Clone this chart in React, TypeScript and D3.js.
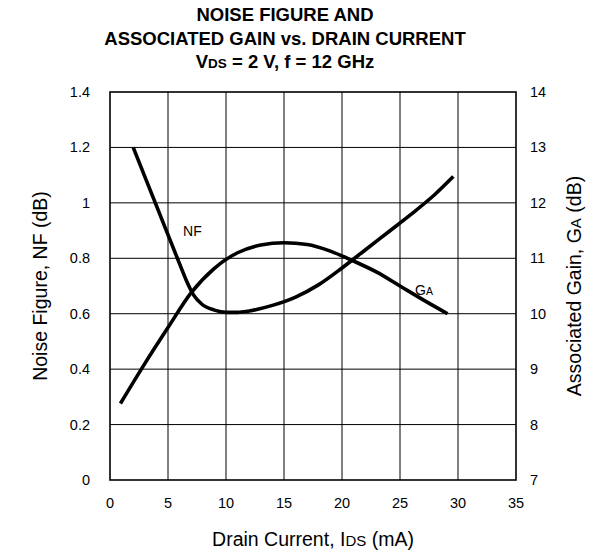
import * as d3 from 'd3';

type Pt = { x: number; y: number };

// Drain current axis ticks (mA)
const X_TICKS = [0, 5, 10, 15, 20, 25, 30, 35];
// Noise figure axis (dB)
const NF_TICKS = [0, 0.2, 0.4, 0.6, 0.8, 1, 1.2, 1.4];
// Associated gain axis (dB)
const GA_TICKS = [7, 8, 9, 10, 11, 12, 13, 14];

// Noise figure vs drain current
const nfCurrent = [2, 4, 6, 6.6, 7.2, 7.9, 9, 10, 11, 12, 14, 16, 18, 20, 22, 24, 26, 28, 29.6];
const nfValues = [1.2, 0.99, 0.78, 0.718, 0.668, 0.635, 0.613, 0.605, 0.605, 0.61, 0.63, 0.66, 0.705, 0.765, 0.83, 0.895, 0.96, 1.03, 1.095];

// Associated gain vs drain current
const gaCurrent = [0.9, 3, 5, 7, 9, 11, 13, 15, 17, 19, 21, 23, 25, 27, 29.1];
const gaValues = [8.38, 9.1, 9.75, 10.38, 10.82, 11.1, 11.24, 11.28, 11.25, 11.13, 10.95, 10.75, 10.5, 10.25, 10.0];

const W = 590;
const H = 554;
const M = { top: 92, right: 74, bottom: 74, left: 110 };
const FONT = '"Liberation Sans", Arial, Helvetica, sans-serif';

export default function App() {
  const innerW = W - M.left - M.right;
  const innerH = H - M.top - M.bottom;

  const x = d3.scaleLinear().domain([0, 35]).range([0, innerW]);
  const yNF = d3.scaleLinear().domain([0, 1.4]).range([innerH, 0]);
  const yGA = d3.scaleLinear().domain([7, 14]).range([innerH, 0]);

  const nfData: Pt[] = nfCurrent.map((c, i) => ({ x: c, y: nfValues[i] }));
  const gaData: Pt[] = gaCurrent.map((c, i) => ({ x: c, y: gaValues[i] }));

  const nfLine = d3
    .line<Pt>()
    .x((d) => x(d.x))
    .y((d) => yNF(d.y))
    .curve(d3.curveMonotoneX);
  const gaLine = d3
    .line<Pt>()
    .x((d) => x(d.x))
    .y((d) => yGA(d.y))
    .curve(d3.curveMonotoneX);

  return (
    <svg
      width={W}
      height={H}
      style={{ position: 'absolute', left: 0, top: 0, fontFamily: FONT }}
    >
      <rect width={W} height={H} fill="#fff" />

      {/* Title */}
      <g fontWeight="bold" fontSize={18.5} textAnchor="middle" fill="#000">
        <text x={285} y={21}>NOISE FIGURE AND</text>
        <text x={285} y={45}>ASSOCIATED GAIN vs. DRAIN CURRENT</text>
        <text x={285} y={68}>
          V<tspan fontSize={13.5}>DS</tspan> = 2 V, f = 12 GHz
        </text>
      </g>

      <g transform={`translate(${M.left},${M.top})`}>
        {/* Grid */}
        {X_TICKS.slice(1, -1).map((t) => (
          <line key={'gx' + t} x1={x(t)} x2={x(t)} y1={0} y2={innerH} stroke="#000" strokeWidth={1} />
        ))}
        {NF_TICKS.slice(1, -1).map((t) => (
          <line key={'gy' + t} x1={0} x2={innerW} y1={yNF(t)} y2={yNF(t)} stroke="#000" strokeWidth={1} />
        ))}
        <rect x={0} y={0} width={innerW} height={innerH} fill="none" stroke="#000" strokeWidth={1.6} />

        {/* Curves */}
        <path d={nfLine(nfData) ?? ''} fill="none" stroke="#000" strokeWidth={3.6} />
        <path d={gaLine(gaData) ?? ''} fill="none" stroke="#000" strokeWidth={3.6} />

        {/* Curve labels */}
        <text x={x(6.3)} y={yNF(0.88)} fontSize={14} fill="#000">NF</text>
        <text x={x(26.3)} y={yGA(10.33)} fontSize={14} fill="#000">
          G<tspan fontSize={10.5}>A</tspan>
        </text>

        {/* Bottom ticks */}
        {X_TICKS.map((t) => (
          <text key={'tx' + t} x={x(t)} y={innerH + 28} fontSize={14.5} textAnchor="middle" fill="#000">
            {t}
          </text>
        ))}
        {/* Left ticks */}
        {NF_TICKS.map((t) => (
          <text key={'tl' + t} x={-20} y={yNF(t) + 5} fontSize={14.5} textAnchor="end" fill="#000">
            {d3.format('~g')(t)}
          </text>
        ))}
        {/* Right ticks */}
        {GA_TICKS.map((t) => (
          <text key={'tr' + t} x={innerW + 14} y={yGA(t) + 5} fontSize={14.5} textAnchor="start" fill="#000">
            {t}
          </text>
        ))}
      </g>

      {/* Axis titles */}
      <text x={313} y={546} fontSize={19.5} textAnchor="middle" fill="#000">
        Drain Current, I<tspan fontSize={15}>DS</tspan> (mA)
      </text>
      <text
        transform={`translate(47,${M.top + innerH / 2}) rotate(-90)`}
        fontSize={19.5}
        textAnchor="middle"
        fill="#000"
      >
        Noise Figure, NF (dB)
      </text>
      <text
        transform={`translate(581,${M.top + innerH / 2}) rotate(-90)`}
        fontSize={19.5}
        textAnchor="middle"
        fill="#000"
      >
        Associated Gain, G<tspan fontSize={15}>A</tspan> (dB)
      </text>
    </svg>
  );
}
